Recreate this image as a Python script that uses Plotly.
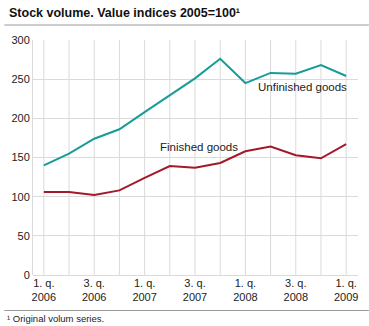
import plotly.graph_objects as go

quarters = ["1. q.<br>2006", "2. q.<br>2006", "3. q.<br>2006", "4. q.<br>2006",
            "1. q.<br>2007", "2. q.<br>2007", "3. q.<br>2007", "4. q.<br>2007",
            "1. q.<br>2008", "2. q.<br>2008", "3. q.<br>2008", "4. q.<br>2008",
            "1. q.<br>2009"]
unfinished = [140, 155, 174, 186, 208, 230, 251, 276, 245, 258, 257, 268, 254]
finished = [106, 106, 102, 108, 124, 139, 137, 143, 158, 164, 153, 149, 167]
tick_labels = ["1. q.<br>2006", "3. q.<br>2006", "1. q.<br>2007", "3. q.<br>2007",
               "1. q.<br>2008", "3. q.<br>2008", "1. q.<br>2009"]

W, H = 369, 326
L, R, T, B = 29, 11, 40, 51
pw, ph = W - L - R, H - T - B

TEAL = "#179c98"
RED = "#a3182b"
FONT = "Liberation Sans, Arial, sans-serif"

x = list(range(len(quarters)))

fig = go.Figure()
fig.add_trace(go.Scatter(x=x, y=unfinished, mode="lines",
                         line=dict(color=TEAL, width=2), hoverinfo="skip"))
fig.add_trace(go.Scatter(x=x, y=finished, mode="lines",
                         line=dict(color=RED, width=2), hoverinfo="skip"))

fig.update_layout(
    width=W, height=H,
    margin=dict(l=L, r=R, t=T, b=B, pad=0),
    paper_bgcolor="white", plot_bgcolor="white",
    showlegend=False,
    font=dict(family=FONT, size=11, color="#222222"),
    xaxis=dict(
        range=[-0.43, 12.47],
        tickmode="array",
        tickvals=[0, 2, 4, 6, 8, 10, 12],
        ticktext=tick_labels,
        showgrid=False,
        zeroline=False,
        showline=False,
        ticks="",
        tickfont=dict(size=11, color="#222222"),
        fixedrange=True,
    ),
    yaxis=dict(
        range=[0, 300],
        tickvals=[0, 50, 100, 150, 200, 250, 300],
        showgrid=True, gridcolor="#dadada", gridwidth=1,
        zeroline=True, zerolinecolor="#dadada", zerolinewidth=1,
        showline=True, linecolor="#dadada", linewidth=1,
        ticks="", ticklen=0,
        tickfont=dict(size=11, color="#222222"),
        fixedrange=True,
    ),
)

# vertical gridlines at every quarter
for i in x:
    fig.add_shape(type="line", xref="x", yref="paper", x0=i, x1=i, y0=0, y1=1,
                  line=dict(color="#dadada", width=1), layer="below")

# rules under the title and above the footnote
def py(pixel_y):
    return (H - B - pixel_y) / ph

def px(pixel_x):
    return (pixel_x - L) / pw

fig.add_shape(type="line", xref="paper", yref="paper",
              x0=px(0), x1=px(W), y0=py(25), y1=py(25),
              line=dict(color="#9a9a9a", width=1))
fig.add_shape(type="line", xref="paper", yref="paper",
              x0=px(0), x1=px(W), y0=py(310.5), y1=py(310.5),
              line=dict(color="#9a9a9a", width=1))

fig.add_annotation(text="<b>Stock volume. Value indices 2005=100¹</b>",
                   xref="paper", yref="paper", x=px(3), y=py(13),
                   xanchor="left", yanchor="middle", showarrow=False,
                   font=dict(size=12.5, color="#111111", family=FONT))
fig.add_annotation(text="¹ Original volum series.",
                   xref="paper", yref="paper", x=px(1), y=py(318),
                   xanchor="left", yanchor="middle", showarrow=False,
                   font=dict(size=9.5, color="#222222", family=FONT))

fig.add_annotation(text="Unfinished goods", xref="paper", yref="paper",
                   x=px(302), y=py(87), xanchor="center", yanchor="middle",
                   showarrow=False, font=dict(size=11.5, color="#222222"))
fig.add_annotation(text="Finished goods", xref="paper", yref="paper",
                   x=px(197), y=py(147), xanchor="center", yanchor="middle",
                   showarrow=False, font=dict(size=11.5, color="#222222"))

fig.write_html("out.html", config={"displayModeBar": False})
